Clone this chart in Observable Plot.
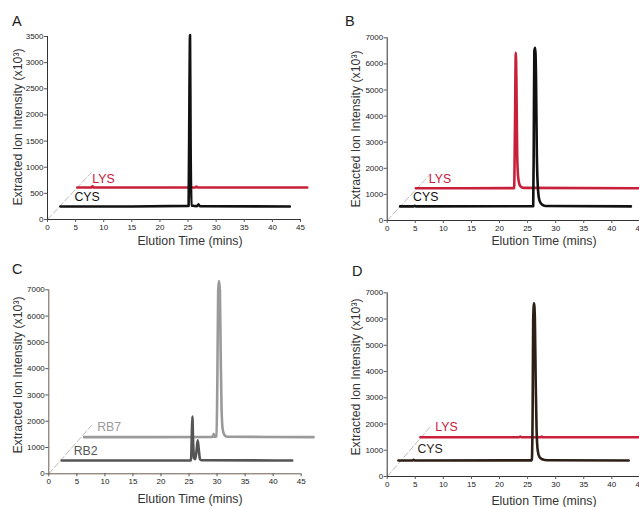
<!DOCTYPE html>
<html>
<head>
<meta charset="utf-8">
<script src="https://cdn.jsdelivr.net/npm/d3@7"></script>
<script src="https://cdn.jsdelivr.net/npm/@observablehq/plot@0.6"></script>
<style>
  html, body { margin: 0; padding: 0; background: #fff; }
  #fig { position: relative; width: 639px; height: 507px; overflow: hidden; font-family: "Liberation Sans", Arial, Helvetica, sans-serif; }
  .panel { position: absolute; }
  .ttl { position: absolute; white-space: nowrap; color: #333; font-size: 12.3px; transform: translate(-50%, -50%); }
  .ytl { position: absolute; white-space: nowrap; color: #333; font-size: 12.3px; transform: translate(-50%, -50%) rotate(-90deg); }
  .let { position: absolute; color: #222; font-size: 14.5px; }
</style>
</head>
<body>
<div id="fig"></div>
<script>
// ---------- DATA ----------
const xTicks = [0, 5, 10, 15, 20, 25, 30, 35, 40, 45];
const yTicksA = [0, 500, 1000, 1500, 2000, 2500, 3000, 3500];
const yTicks7000 = [0, 1000, 2000, 3000, 4000, 5000, 6000, 7000];
const panelLetters = ["A", "B", "C", "D"];
const xTitle = "Elution Time (mins)";
const yTitle = "Extracted Ion Intensity (x10³)";

// Panel A
const aCysT = [2.3, 15, 25.1, 25.25, 25.35, 25.45, 25.6, 26.6, 26.85, 27.1, 43.1];
const aCysV = [250, 250, 260, 2500, 3530, 1500, 270, 255, 290, 255, 248];
const aLysT = [5.3, 7.8, 8.0, 8.2, 26.3, 26.5, 26.7, 46.2];
const aLysV = [612, 612, 635, 612, 612, 630, 612, 612];
const aDepth = [[0, 0], [7.8, 899]];

// Panel B
const bCysT = [2.3, 4.7, 4.9, 5.1, 26.0, 26.1, 26.2, 26.35, 26.5, 26.65, 26.85, 27.1, 27.5, 28.2, 43.4];
const bCysV = [540, 540, 565, 540, 545, 3000, 6500, 6620, 5500, 2500, 1200, 780, 620, 555, 540];
const bLysT = [5.1, 22.6, 22.75, 22.9, 23.0, 23.15, 23.35, 23.7, 24.3, 48];
const bLysV = [1235, 1240, 3500, 6430, 5500, 2500, 1600, 1320, 1250, 1235];
const bDepth = [[0, 0], [7.7, 1786]];

// Panel C
const cRb2T = [2.3, 25.35, 25.5, 25.6, 25.72, 25.9, 26.1, 26.35, 26.55, 26.75, 26.95, 27.2, 43.4];
const cRb2V = [507, 510, 1500, 2180, 1300, 600, 560, 900, 1270, 900, 560, 515, 507];
const cRb7T = [6.3, 29.2, 29.4, 29.6, 29.9, 30.05, 30.2, 30.35, 30.5, 30.65, 30.8, 31.0, 31.3, 31.8, 47.2];
const cRb7V = [1395, 1400, 1520, 1400, 1420, 3500, 7000, 7330, 7000, 4500, 2500, 1700, 1480, 1410, 1395];
const cDepth = [[0, 0], [7.6, 1838]];

// Panel D
const dCysT = [2.0, 4.5, 4.7, 4.9, 25.75, 25.9, 26.0, 26.15, 26.3, 26.45, 26.6, 26.8, 27.1, 27.6, 28.5, 43.0];
const dCysV = [610, 610, 640, 610, 615, 2500, 6000, 6600, 6000, 3500, 1800, 1000, 750, 660, 620, 610];
const dLysT = [5.9, 23.5, 23.7, 23.9, 27.3, 27.5, 27.7, 48];
const dLysV = [1498, 1498, 1525, 1498, 1498, 1520, 1498, 1498];
const dDepth = [[0, 0], [7.7, 1900]];

// ---------- BUILD ----------
const RED = "#c8203a";
function series(name, T, V, color, dx, dy) {
  return { name, color, dx, dy, points: T.map((t, i) => ({ t, v: V[i], name })) };
}

const panels = [
  { left: 0, top: 0, width: 320, height: 260, ml: 47, mr: 20, mt: 36, mb: 41, yMax: 3500, yTicks: yTicksA, axisColor: "#333",
    depth: aDepth, series: [series("LYS", aLysT, aLysV, RED, 15, -8.5), series("CYS", aCysT, aCysV, "#111", 14, -9)],
    letter: [12, 13], xt: [190, 241], yt: [17.5, 127] },
  { left: 320, top: 0, width: 340, height: 260, ml: 66.7, mr: 20.6, mt: 37.3, mb: 40, yMax: 7000, yTicks: yTicks7000, axisColor: "#333",
    depth: bDepth, series: [series("LYS", bLysT, bLysV, RED, 13, -9), series("CYS", bCysT, bCysV, "#111", 13, -9)],
    letter: [345, 13], xt: [544, 241], yt: [356, 129] },
  { left: 0, top: 260, width: 320, height: 247, ml: 48.3, mr: 19.3, mt: 29.3, mb: 33.7, yMax: 7000, yTicks: yTicks7000, axisColor: "#6b5a4e",
    depth: cDepth, series: [series("RB7", cRb7T, cRb7V, "#9a9a9a", 13, -10), series("RB2", cRb2T, cRb2V, "#555", 12, -9)],
    letter: [12, 261], xt: [190, 499], yt: [17.5, 375] },
  { left: 320, top: 260, width: 340, height: 247, ml: 66.7, mr: 20.6, mt: 32.3, mb: 31, yMax: 7000, yTicks: yTicks7000, axisColor: "#333",
    depth: dDepth, series: [series("LYS", dLysT, dLysV, RED, 15, -10), series("CYS", dCysT, dCysV, "#2e1f16", 19, -11)],
    letter: [352, 263], xt: [544, 501], yt: [356, 377] }
];

const fig = document.getElementById("fig");
panels.forEach((p, idx) => {
  const lineMarks = p.series.map(s => Plot.line(s.points, {
    x: "t", y: "v", stroke: s.color, strokeWidth: 2.6, strokeLinejoin: "round", strokeLinecap: "round", curve: "monotone-x"
  }));
  const labelMarks = p.series.map(s => Plot.text([s.points[0]], {
    x: "t", y: "v", text: d => d.name, fill: s.color, fontSize: 12.3, textAnchor: "start", dx: s.dx, dy: s.dy
  }));
  const chart = Plot.plot({
    width: p.width, height: p.height,
    marginLeft: p.ml, marginRight: p.mr, marginTop: p.mt, marginBottom: p.mb,
    x: { domain: [0, 45] },
    y: { domain: [0, p.yMax] },
    style: { overflow: "visible", background: "transparent", fontFamily: "'Liberation Sans', Arial, Helvetica, sans-serif" },
    marks: [
      Plot.line(p.depth, { x: d => d[0], y: d => d[1], stroke: "#bdbdbd", strokeWidth: 1, strokeDasharray: "6,2.5" }),
      Plot.ruleY([0], { x1: 0, x2: 45, stroke: p.axisColor, strokeWidth: 1 }),
      Plot.ruleX([0], { y1: 0, y2: p.yMax, stroke: p.axisColor, strokeWidth: 1 }),
      Plot.axisX(xTicks, { anchor: "bottom", tickSize: 3, tickPadding: 2, fontSize: 8, tickFormat: d => String(d), label: null, stroke: "#555", fill: "#222" }),
      Plot.axisY(p.yTicks, { anchor: "left", tickSize: 3, tickPadding: 1, fontSize: 8, tickFormat: d => String(d), label: null, stroke: "#555", fill: "#222" }),
      ...lineMarks,
      ...labelMarks
    ]
  });
  chart.classList.add("panel");
  chart.style.left = p.left + "px";
  chart.style.top = p.top + "px";
  chart.style.position = "absolute";
  fig.appendChild(chart);

  const L = document.createElement("div");
  L.className = "let"; L.textContent = panelLetters[idx];
  L.style.left = p.letter[0] + "px"; L.style.top = p.letter[1] + "px";
  fig.appendChild(L);

  const xt = document.createElement("div");
  xt.className = "ttl"; xt.textContent = xTitle;
  xt.style.left = p.xt[0] + "px"; xt.style.top = p.xt[1] + "px";
  fig.appendChild(xt);

  const yt = document.createElement("div");
  yt.className = "ytl"; yt.textContent = yTitle;
  yt.style.left = p.yt[0] + "px"; yt.style.top = p.yt[1] + "px";
  fig.appendChild(yt);
});
</script>
</body>
</html>
